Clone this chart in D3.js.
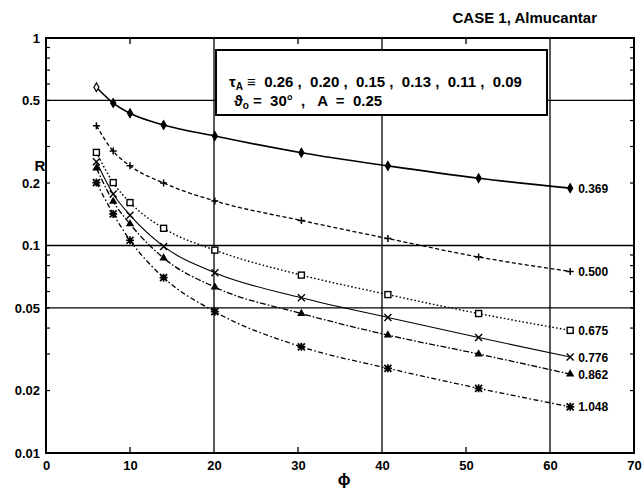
<!DOCTYPE html>
<html><head><meta charset="utf-8">
<script src="https://cdn.jsdelivr.net/npm/d3@7"></script>
<style>
body{margin:0;background:#fff;}
text{font-family:"Liberation Sans",Arial,sans-serif;fill:#000;}
</style></head>
<body>
<svg id="c" width="644" height="493"></svg>
<script>
// ---- data ----
const phi = [6, 8, 10, 14, 20.1, 30.4, 40.7, 51.5, 62.4];
const labels = ["0.369", "0.500", "0.675", "0.776", "0.862", "1.048"];
const r369 = [0.579, 0.486, 0.434, 0.381, 0.337, 0.280, 0.242, 0.211, 0.189];
const r500 = [0.378, 0.285, 0.242, 0.200, 0.164, 0.132, 0.108, 0.088, 0.075];
const r675 = [0.281, 0.201, 0.161, 0.121, 0.095, 0.072, 0.058, 0.047, 0.039];
const r776 = [0.253, 0.177, 0.140, 0.099, 0.074, 0.056, 0.045, 0.036, 0.029];
const r862 = [0.236, 0.163, 0.127, 0.087, 0.063, 0.047, 0.037, 0.030, 0.024];
const r1048 = [0.201, 0.142, 0.106, 0.070, 0.048, 0.0325, 0.0256, 0.0205, 0.0167];
const xTicks = [0, 10, 20, 30, 40, 50, 60, 70];
const yTicks = [0.01, 0.02, 0.05, 0.1, 0.2, 0.5, 1];
const yTickLabels = ["0.01", "0.02", "0.05", "0.1", "0.2", "0.5", "1"];
const xGrid = [20, 40, 60];
const yGrid = [0.05, 0.1, 0.5];
const xMinor = [10, 30, 50];

const series = [
  {v: r369, lab: labels[0], mark: "diamond", dash: null, w: 1.6},
  {v: r500, lab: labels[1], mark: "plus", dash: "4,2.5", w: 1.3},
  {v: r675, lab: labels[2], mark: "square", dash: "1.6,2.2", w: 1.4},
  {v: r776, lab: labels[3], mark: "x", dash: null, w: 1.1},
  {v: r862, lab: labels[4], mark: "triangle", dash: "6,2,1.6,2", w: 1.3},
  {v: r1048, lab: labels[5], mark: "star", dash: "5,2.5,1.6,2.5", w: 1.3}
];

const svg = d3.select("#c");
const x = d3.scaleLinear().domain([0, 70]).range([46, 634]);
const y = d3.scaleLog().domain([0.01, 1]).range([453, 38]);
const X0 = x(0), X1 = x(70), Y0 = y(0.01), Y1 = y(1);

// grid lines
svg.append("g").selectAll("line").data(xGrid).join("line")
  .attr("x1", d => x(d)).attr("x2", d => x(d)).attr("y1", Y0).attr("y2", Y1)
  .attr("stroke", "#000").attr("stroke-width", 1.3);
svg.append("g").selectAll("line").data(yGrid).join("line")
  .attr("x1", X0).attr("x2", X1).attr("y1", d => y(d)).attr("y2", d => y(d))
  .attr("stroke", "#000").attr("stroke-width", 1.3);

// minor ticks (log) on left and right
const minor = [];
[0.01, 0.1].forEach(b => { for (let k = 2; k <= 9; k++) minor.push(b * k); });
const mt = svg.append("g");
mt.selectAll(".l").data(minor).join("line")
  .attr("x1", X0).attr("x2", X0 + 4).attr("y1", d => y(d)).attr("y2", d => y(d))
  .attr("stroke", "#000").attr("stroke-width", 1.2);
mt.selectAll(".r").data(minor).join("line")
  .attr("x1", X1).attr("x2", X1 - 4).attr("y1", d => y(d)).attr("y2", d => y(d))
  .attr("stroke", "#000").attr("stroke-width", 1.2);
mt.selectAll(".b").data(xMinor).join("line")
  .attr("x1", d => x(d)).attr("x2", d => x(d)).attr("y1", Y0).attr("y2", Y0 - 6)
  .attr("stroke", "#000").attr("stroke-width", 1.3);
mt.selectAll(".t").data(xMinor).join("line")
  .attr("x1", d => x(d)).attr("x2", d => x(d)).attr("y1", Y1).attr("y2", Y1 + 6)
  .attr("stroke", "#000").attr("stroke-width", 1.3);

// frame
svg.append("rect").attr("x", X0).attr("y", Y1).attr("width", X1 - X0).attr("height", Y0 - Y1)
  .attr("fill", "none").attr("stroke", "#000").attr("stroke-width", 2);

// axes labels
const xa = svg.append("g").attr("transform", `translate(0,${Y0})`)
  .call(d3.axisBottom(x).tickValues(xTicks).tickSize(0).tickPadding(8).tickFormat(d3.format("d")));
xa.select(".domain").remove();
xa.selectAll("text").attr("font-size", 13).attr("font-weight", "bold")
  .attr("font-family", "Liberation Sans, Arial, sans-serif");
const ya = svg.append("g").attr("transform", `translate(${X0},0)`)
  .call(d3.axisLeft(y).tickValues(yTicks).tickSize(0).tickPadding(6)
    .tickFormat((d, i) => yTickLabels[i]));
ya.select(".domain").remove();
ya.selectAll("text").attr("font-size", 13).attr("font-weight", "bold")
  .attr("font-family", "Liberation Sans, Arial, sans-serif");

svg.append("text").attr("x", 40).attr("y", 171).attr("text-anchor", "middle")
  .attr("font-size", 15).attr("font-weight", "bold").text("R");
svg.append("text").attr("x", x(35.5)).attr("y", 485).attr("text-anchor", "middle")
  .attr("font-size", 17).attr("font-weight", "bold").text("ϕ");

// title
svg.append("text").attr("x", 597).attr("y", 23).attr("text-anchor", "end")
  .attr("font-size", 15).attr("font-weight", "bold").text("CASE 1,  Almucantar");

// legend box
svg.append("rect").attr("x", 216).attr("y", 50).attr("width", 331).attr("height", 65)
  .attr("fill", "#fff").attr("stroke", "#000").attr("stroke-width", 2);
const t1 = svg.append("text").attr("x", 229).attr("y", 87).attr("font-size", 15).attr("font-weight", "bold")
  .attr("xml:space", "preserve");
t1.append("tspan").text("τ");
t1.append("tspan").attr("font-size", 10).attr("dy", 3).text("A");
t1.append("tspan").attr("dy", -3).text(" ≡  0.26 ,  0.20 ,  0.15 ,  0.13 ,  0.11 ,  0.09");
const t2 = svg.append("text").attr("x", 234).attr("y", 106).attr("font-size", 15).attr("font-weight", "bold")
  .attr("xml:space", "preserve");
t2.append("tspan").text("ϑ");
t2.append("tspan").attr("font-size", 10).attr("dy", 3).text("o");
t2.append("tspan").attr("dy", -3).text(" =  30°  ,   A  =  0.25");

// series
const line = d3.line().x((d, i) => x(phi[i])).y(d => y(d)).curve(d3.curveMonotoneX);
const g = svg.append("g");
series.forEach(s => {
  g.append("path").attr("d", line(s.v)).attr("fill", "none").attr("stroke", "#000")
    .attr("stroke-width", s.w).attr("stroke-dasharray", s.dash);
  const mg = g.append("g");
  s.v.forEach((v, i) => {
    const cx = x(phi[i]), cy = y(v);
    const m = mg.append("g").attr("transform", `translate(${cx},${cy})`);
    if (s.mark === "diamond") {
      m.append("path").attr("d", d3.symbol(d3.symbolDiamond, 22)())
        .attr("fill", i === 0 ? "#fff" : "#000").attr("stroke", "#000").attr("stroke-width", 1.2);
    } else if (s.mark === "plus") {
      m.append("path").attr("d", "M-3.5,0H3.5M0,-3.5V3.5").attr("stroke", "#000").attr("stroke-width", 1.5);
    } else if (s.mark === "square") {
      m.append("rect").attr("x", -3).attr("y", -3).attr("width", 6).attr("height", 6)
        .attr("fill", "#fff").attr("stroke", "#000").attr("stroke-width", 1.4);
    } else if (s.mark === "x") {
      m.append("path").attr("d", "M-3.5,-3.5L3.5,3.5M-3.5,3.5L3.5,-3.5").attr("stroke", "#000").attr("stroke-width", 1.4);
    } else if (s.mark === "triangle") {
      m.append("path").attr("d", d3.symbol(d3.symbolTriangle, 30)()).attr("fill", "#000");
    } else if (s.mark === "star") {
      m.append("path").attr("d", "M-3.5,-3.5L3.5,3.5M-3.5,3.5L3.5,-3.5M-4,0H4M0,-4V4")
        .attr("stroke", "#000").attr("stroke-width", 1.7);
    }
  });
  g.append("text").attr("x", x(phi[phi.length - 1]) + 8).attr("y", y(s.v[s.v.length - 1]) + 4.5)
    .attr("font-size", 12).attr("font-weight", "bold").text(s.lab);
});
</script>
</body></html>
